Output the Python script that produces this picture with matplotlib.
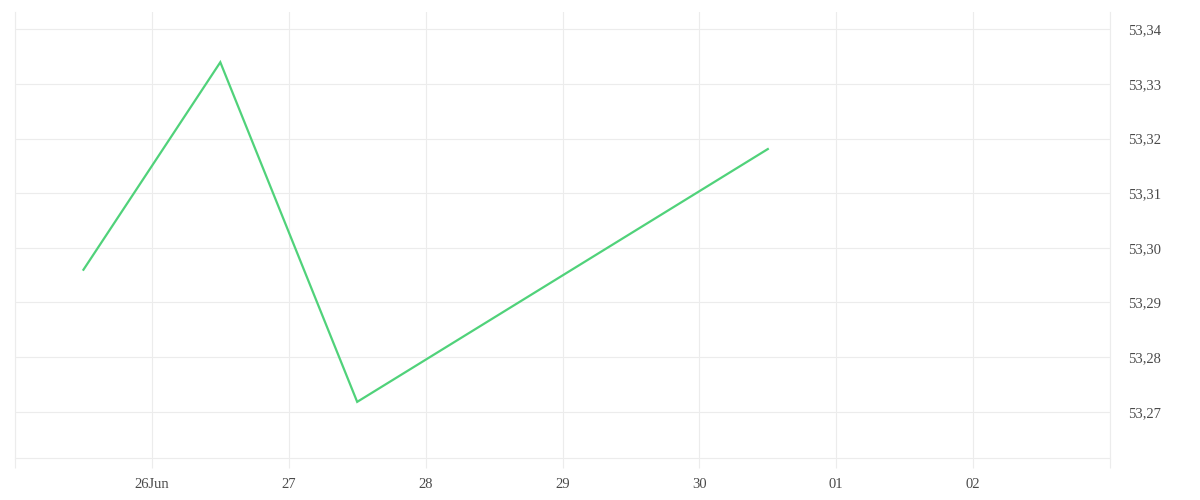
import datetime as dt
import matplotlib
matplotlib.use("Agg")
import matplotlib.pyplot as plt
import matplotlib.dates as mdates
from matplotlib.ticker import FuncFormatter

# datos
fechas = [dt.datetime(2023, 6, 25, 12), dt.datetime(2023, 6, 26, 12),
          dt.datetime(2023, 6, 27, 12), dt.datetime(2023, 6, 30, 12)]
valores = [53.2960, 53.3340, 53.2718, 53.3181]
y_ticks = [53.27, 53.28, 53.29, 53.30, 53.31, 53.32, 53.33, 53.34]
x_inicio = dt.datetime(2023, 6, 25)
x_fin = dt.datetime(2023, 7, 3)

gris = "#ececec"
texto = "#4a4a4a"
plt.rcParams["font.family"] = ["Liberation Serif", "DejaVu Serif"]

fig = plt.figure(figsize=(12, 5), dpi=100)
ax = fig.add_axes([0.0125, 0.084, 0.9125, 0.892])

ax.plot(fechas, valores, color="#50d27a", linewidth=1.6, solid_joinstyle="miter")

ax.set_xlim(x_inicio, x_fin)
ax.set_ylim(53.26152, 53.3432)

# eje x: un tick por dia, las puntas sin etiqueta
dias = [x_inicio + dt.timedelta(days=i) for i in range(9)]
etiquetas = [""] + [d.strftime("%d%b") if i == 0 else d.strftime("%d")
                    for i, d in enumerate(dias[1:-1])] + [""]
ax.set_xticks(dias)
ax.set_xticklabels(etiquetas)
ax.tick_params(axis="x", length=7.2, width=0.8, color=gris, pad=7.5,
               labelsize=10.5, labelcolor=texto)

# eje y a la derecha
ax.yaxis.tick_right()
ax.set_yticks(y_ticks)
ax.yaxis.set_major_formatter(FuncFormatter(lambda v, p: f"{v:.2f}".replace(".", ",")))
ax.tick_params(axis="y", length=0, pad=13, labelsize=10.5, labelcolor=texto)

ax.grid(True, color=gris, linewidth=0.8)
ax.set_axisbelow(True)
ax.spines["top"].set_visible(False)
for lado in ["left", "right", "bottom"]:
    ax.spines[lado].set_color(gris)
    ax.spines[lado].set_linewidth(0.8)

fig.savefig("out.png", dpi=100)
